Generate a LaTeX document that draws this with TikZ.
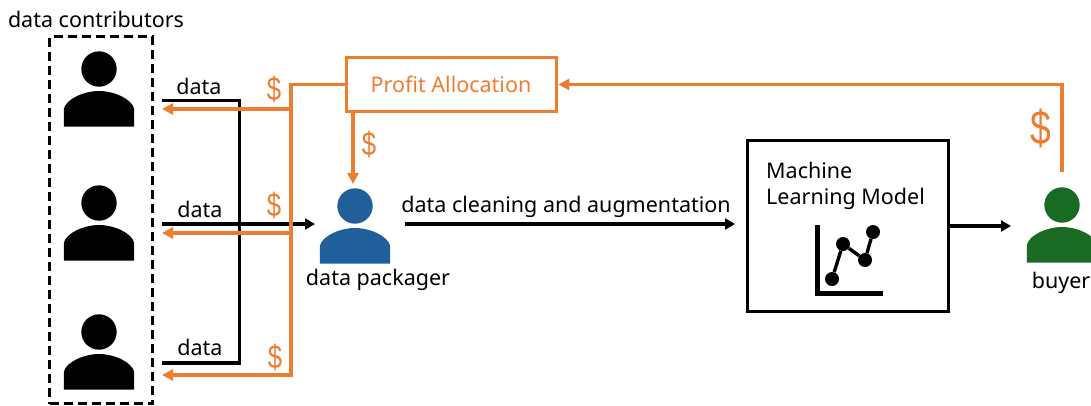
\documentclass[tikz,border=0pt]{standalone}
\usepackage{fontspec}
\setmainfont{Noto Sans}
\newfontfamily\moneyfont[FakeStretch=0.78]{Liberation Sans}
\usetikzlibrary{arrows.meta}
\definecolor{payorange}{HTML}{ED7D31}
\definecolor{packblue}{HTML}{215F9A}
\definecolor{buygreen}{HTML}{196B24}
\tikzset{
  x=1pt, y=-1pt,
  person/.pic = {
    \path[pic actions] (0,0) circle (17.7pt);
    \path[pic actions] (-35.2,57.7) -- (-35.2,40) .. controls (-33,30) and (-15,22) .. (0,22)
      .. controls (15,22) and (33,30) .. (35.2,40) -- (35.2,57.7) -- cycle;
  },
  label/.style = {inner sep=0pt, font=\fontsize{21.5}{26}\selectfont},
  money/.style = {inner sep=0pt, text=payorange, font=\moneyfont\fontsize{33}{36}\selectfont},
  dataline/.style = {draw=black, line width=3.3pt},
  dataflow/.style = {dataline, -{Triangle[length=10pt,width=11pt]}},
  payline/.style = {draw=payorange, line width=3.3pt},
  payflow/.style = {payline, -{Triangle[length=11pt,width=11pt]}},
  dot/.style = {circle, fill=black, inner sep=0pt, minimum size=14pt},
}
\begin{document}
\begin{tikzpicture}
\useasboundingbox (0,0) rectangle (1091,405);
% people
\pic[fill=black] at (99,69) {person};
\pic[fill=black] at (99,203) {person};
\pic[fill=black] at (99,332) {person};
\pic[fill=packblue] at (355,206) {person};
\pic[fill=buygreen] at (1062,205) {person};
\node [draw, line width=3.4pt, dash pattern=on 9pt off 5pt, minimum width=103pt, minimum height=367pt, inner sep=0pt] (group) at (101,220) {};
% boxes
\node [draw=payorange, line width=3.6pt, minimum width=210pt, minimum height=54pt, inner sep=0pt] (alloc) at (451.5,84.5) {};
\node [label, text=payorange] (alloctext) at (451,84) {Profit Allocation};
\node [draw=black, line width=3.4pt, minimum width=201pt, minimum height=171pt, inner sep=0pt] (model) at (848,226) {};
\node [label, anchor=west] (modeltop) at (766,170) {Machine};
\node [label, anchor=west] (modelbot) at (766,199) {Learning Model};
% chart in the model box
\draw [line width=5pt] (817,225) -- (817,293) -- (883,293);
\node [dot] (p1) at (832,279) {};
\node [dot] (p2) at (843,244) {};
\node [dot] (p3) at (865,260) {};
\node [dot] (p4) at (873,232) {};
\draw [line width=3.4pt] (p1) -- (p2) -- (p3) -- (p4);
% free ends
\coordinate (c1) at (162,100.5);
\coordinate (c2) at (162,224);
\coordinate (c3) at (162,363);
\coordinate (r1) at (162,109);
\coordinate (r2) at (162,233);
\coordinate (r3) at (162,375);
\coordinate (packin) at (315,224);
\coordinate (packtop) at (353,184);
\coordinate (clean) at (405,224);
\coordinate (cleanend) at (735,224);
\coordinate (buyin) at (1011,226);
\coordinate (buyout) at (1062,172);
% data lines
\draw [dataline] (c1) -- (239.5,100.5) -- (239.5,363) -- (c3);
\draw [dataflow] (c2) -- (packin);
\draw [dataflow] (clean) -- (cleanend);
\draw [dataflow] (model.east |- buyin) -- (buyin);
% money lines
\draw [payflow] (alloc.west) -- (291,84.5) -- (291,375) -- (r3);
\draw [payflow] (291,109) -- (r1);
\draw [payflow] (291,233) -- (r2);
\draw [payflow] (353,112) -- (packtop);
\draw [payflow] (buyout) -- (1062,84.5) -- (alloc.east);
% labels
\node [label] (title) at (96,19) {data contributors};
\node [label] (d1) at (199,86) {data};
\node [label] (d2) at (200,209) {data};
\node [label] (d3) at (200,347) {data};
\node [label] (packname) at (378,280) {data packager};
\node [label] (cleanname) at (566,207) {data cleaning and augmentation};
\node [label] (buyname) at (1061,283) {buyer};
\node [money] (m1) at (274,89) {\$};
\node [money] (m2) at (369,144) {\$};
\node [money] (m3) at (274,205) {\$};
\node [money] (m4) at (275,357) {\$};
\node [money, font=\moneyfont\fontsize{48}{52}\selectfont] (m5) at (1041,128) {\$};
\end{tikzpicture}
\end{document}
